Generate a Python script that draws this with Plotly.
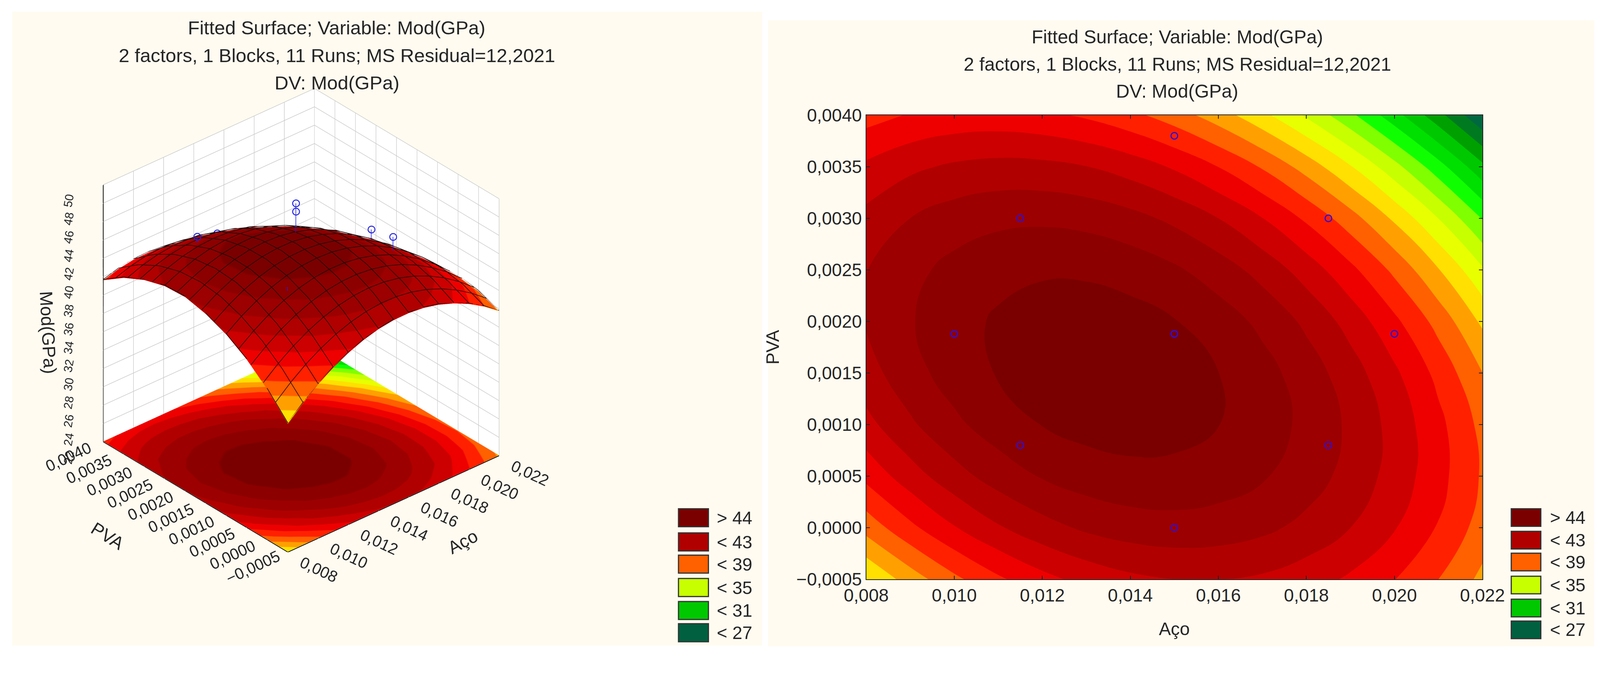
import numpy as np
import plotly.graph_objects as go

W0, WW, Y0, HH = 8, 4151, 4.5, 1740

title_lines = ["Fitted Surface; Variable: Mod(GPa)",
               "2 factors, 1 Blocks, 11 Runs; MS Residual=12,2021",
               "DV: Mod(GPa)"]

aco = [0.008, 0.009, 0.010, 0.011, 0.012, 0.013, 0.014, 0.015, 0.016, 0.017, 0.018, 0.019, 0.020, 0.021, 0.022]
pva = [-0.0005, 0.0, 0.0005, 0.0010, 0.0015, 0.0020, 0.0025, 0.0030, 0.0035, 0.0040]

mod_m0005 = [35.98, 37.47, 38.76, 39.83, 40.68, 41.33, 41.78, 42.01, 42.03, 41.85, 41.45, 40.84, 40.03, 39.00, 37.75]
mod_00000 = [38.38, 39.76, 40.93, 41.89, 42.63, 43.17, 43.50, 43.62, 43.53, 43.23, 42.72, 42.00, 41.07, 39.93, 38.57]
mod_00005 = [40.29, 41.55, 42.61, 43.45, 44.08, 44.51, 44.72, 44.73, 44.52, 44.11, 43.49, 42.65, 41.61, 40.35, 38.88]
mod_00010 = [41.69, 42.84, 43.78, 44.51, 45.03, 45.34, 45.44, 45.34, 45.02, 44.49, 43.76, 42.81, 41.65, 40.28, 38.70]
mod_00015 = [42.60, 43.63, 44.46, 45.08, 45.48, 45.68, 45.67, 45.44, 45.01, 44.37, 43.52, 42.46, 41.19, 39.71, 38.01]
mod_00020 = [43.10, 43.92, 44.63, 45.14, 45.43, 45.51, 45.39, 45.05, 44.51, 43.76, 42.79, 41.62, 40.23, 38.64, 36.83]
mod_00025 = [42.97, 43.71, 44.31, 44.70, 44.88, 44.85, 44.61, 44.16, 43.50, 42.64, 41.56, 40.27, 38.77, 37.06, 35.14]
mod_00030 = [42.30, 43.00, 43.49, 43.76, 43.82, 43.68, 43.33, 42.77, 42.00, 41.02, 39.83, 38.43, 36.82, 34.99, 32.95]
mod_00035 = [41.20, 41.79, 42.16, 42.33, 42.27, 42.02, 41.55, 40.88, 39.99, 38.90, 37.59, 36.08, 34.35, 32.42, 30.26]
mod_00040 = [39.60, 40.08, 40.34, 40.39, 40.22, 39.85, 39.28, 38.49, 37.49, 36.28, 34.87, 33.24, 31.40, 29.35, 27.08]
mod_rows = [mod_m0005, mod_00000, mod_00005, mod_00010, mod_00015, mod_00020, mod_00025, mod_00030, mod_00035, mod_00040]

run_aco = [0.0150, 0.0115, 0.0185, 0.0100, 0.0150, 0.0150, 0.0200, 0.0115, 0.0185, 0.0150]
run_pva = [0.0038, 0.0030, 0.0030, 0.00188, 0.00188, 0.00188, 0.00188, 0.0008, 0.0008, 0.0000]
run_mod = [40.0, 44.4, 38.5, 40.0, 47.5, 48.4, 41.8, 41.0, 45.0, 41.0]
run_surface = [39.2, 43.7, 39.1, 44.7, 45.2, 45.2, 40.4, 44.8, 43.5, 43.6]

band_colors = ["#006040", "#006840", "#007a20", "#00a000", "#00c800", "#00e000", "#10ff00", "#80ff00",
               "#c8ff00", "#e8ff00", "#ffe000", "#ffa000", "#ff6000", "#ff2000", "#ee0000", "#cc0000",
               "#b00000", "#9c0000", "#8c0000", "#7a0000"]
legend_labels = ["> 44", "< 43", "< 39", "< 35", "< 31", "< 27"]
legend_band = [19, 16, 12, 8, 4, 0]

z_tick_vals = [22, 24, 26, 28, 30, 32, 34, 36, 38, 40, 42, 44, 46, 48, 50]
x_tick_vals = [0.008, 0.010, 0.012, 0.014, 0.016, 0.018, 0.020, 0.022]
y_tick_vals = [-0.0005, 0.0, 0.0005, 0.0010, 0.0015, 0.0020, 0.0025, 0.0030, 0.0035, 0.0040]

PANEL = "#FFFBF0"
INK = "#262626"
FONT = "Liberation Sans"
ZMIN, ZMAX = 26, 46
n = len(band_colors)
scale = []
for i, c in enumerate(band_colors):
    scale += [[i / n, c], [(i + 1) / n, c]]

def fx(x):
    return (x - W0) / WW
def fy(y):
    return 1 - (y - Y0) / HH

Z = np.array(mod_rows)
fig = go.Figure()

# 3D panel
flat = dict(ambient=1, diffuse=0, specular=0, roughness=1, fresnel=0)
fig.add_trace(go.Surface(x=aco, y=pva, z=np.full(Z.shape, 22.05), surfacecolor=Z, cmin=ZMIN, cmax=ZMAX,
                         colorscale=scale, showscale=False, hoverinfo="skip", lighting=flat, scene="scene"))
fig.add_trace(go.Surface(x=aco, y=pva, z=Z, surfacecolor=Z, cmin=ZMIN, cmax=ZMAX,
                         colorscale=scale, showscale=False, hoverinfo="skip", lighting=flat, scene="scene"))

# wire mesh drawn on the fitted surface, one line per Aço value and one per PVA step
mx, my, mz = [], [], []
LIFT = 0.1
for j, a in enumerate(aco):
    mx += [a] * len(pva) + [None]
    my += list(pva) + [None]
    mz += list(Z[:, j] + LIFT) + [None]
for p in np.linspace(pva[0], pva[-1], 16):
    row = [np.interp(p, pva, Z[:, j]) for j in range(len(aco))]
    mx += list(aco) + [None]
    my += [p] * len(aco) + [None]
    mz += [v + LIFT for v in row] + [None]
fig.add_trace(go.Scatter3d(x=mx, y=my, z=mz, mode="lines", line=dict(color="#1a0a0a", width=3),
                           hoverinfo="skip", showlegend=False, scene="scene"))

sx, sy, sz = [], [], []
for a, p, m, s in zip(run_aco, run_pva, run_mod, run_surface):
    sx += [a, a, None]; sy += [p, p, None]; sz += [m, s, None]
fig.add_trace(go.Scatter3d(x=sx, y=sy, z=sz, mode="lines", line=dict(color="#2020e0", width=3),
                           hoverinfo="skip", showlegend=False, scene="scene"))
fig.add_trace(go.Scatter3d(x=run_aco, y=run_pva, z=run_mod, mode="markers",
                           marker=dict(symbol="circle-open", size=11, color="#2020e0", line=dict(color="#2020e0", width=3)),
                           hoverinfo="skip", showlegend=False, scene="scene"))

# Contour panel
fig.add_trace(go.Contour(x=aco, y=pva, z=Z, zmin=ZMIN, zmax=ZMAX, colorscale=scale, showscale=False,
                         contours=dict(start=27, end=45, size=1, coloring="fill"),
                         line=dict(width=0, smoothing=1.3), hoverinfo="skip", xaxis="x", yaxis="y"))
fig.add_trace(go.Scatter(x=run_aco, y=run_pva, mode="markers", hoverinfo="skip", showlegend=False,
                         marker=dict(symbol="circle-open", size=17, color="#3010d0", line=dict(color="#3010d0", width=3)),
                         xaxis="x", yaxis="y"))

def scene_axis(vals, rng, fmt, angle, size):
    return dict(title=dict(text=""),
                range=rng, tickmode="array", tickvals=vals, tickformat=fmt, tickangle=angle,
                tickfont=dict(family=FONT, size=size, color=INK),
                showbackground=True, backgroundcolor="white", gridcolor="#c8c8c8", gridwidth=3,
                showline=True, linecolor="#000000", linewidth=4, showspikes=False, zeroline=False,
                ticks="outside", ticklen=100, tickcolor="rgba(0,0,0,0)", tickwidth=3)

fig.update_layout(
    autosize=True, margin=dict(l=0, r=0, t=0, b=0, pad=0),
    paper_bgcolor="white", plot_bgcolor=PANEL, separators=",.", showlegend=False,
    font=dict(family=FONT, color=INK),
    scene=dict(
        domain=dict(x=[fx(24), fx(1544)], y=[fy(1611), fy(53)]),
        aspectmode="manual", aspectratio=dict(x=0.94, y=0.94, z=1.01),
        camera=dict(eye=dict(x=-1.32, y=-1.51, z=1.228), center=dict(x=0, y=0, z=0), up=dict(x=0, y=0, z=1),
                    projection=dict(type="orthographic")),
        bgcolor="rgba(0,0,0,0)",
        xaxis=scene_axis(x_tick_vals, [0.008, 0.022], ".3f", 25, 22),
        yaxis=scene_axis(y_tick_vals, [-0.0005, 0.004], ".4f", -25, 22),
        zaxis=scene_axis(z_tick_vals, [22, 50], "d", -80, 19),
    ),
    xaxis=dict(domain=[fx(2256), fx(3861)], range=[0.008, 0.022], tickvals=x_tick_vals, tickformat=".3f",
               ticks="inside", ticklen=9, tickwidth=2, tickcolor="#222", mirror="allticks", showline=True,
               linecolor="#222", linewidth=2, showgrid=False, zeroline=False, automargin=False,
               tickfont=dict(family=FONT, size=46, color=INK),
               title=dict(text="Aço", font=dict(family=FONT, size=46, color=INK), standoff=45)),
    yaxis=dict(domain=[fy(1508), fy(297)], range=[-0.0005, 0.004], tickvals=y_tick_vals, tickformat=".4f",
               ticks="inside", ticklen=9, tickwidth=2, tickcolor="#222", mirror="allticks", showline=True,
               linecolor="#222", linewidth=2, showgrid=False, zeroline=False, automargin=False,
               tickfont=dict(family=FONT, size=46, color=INK),
               title=dict(text="PVA", font=dict(family=FONT, size=46, color=INK), standoff=30)),
)

shapes, annotations = [], []
def px_rect(x0, y0, x1, y1, fill, line=None, layer="below"):
    shapes.append(dict(type="rect", xref="paper", yref="paper", x0=fx(x0), x1=fx(x1), y0=fy(y1), y1=fy(y0),
                       fillcolor=fill, line=dict(color=line or fill, width=3 if line else 0), layer=layer))
def px_text(x, y, text, size, anchor="center", angle=0):
    annotations.append(dict(xref="paper", yref="paper", x=fx(x), y=fy(y), text=text, showarrow=False,
                            xanchor=anchor, yanchor="middle", textangle=angle,
                            font=dict(family=FONT, size=size, color=INK)))

px_rect(32, 27, 1985, 1681, PANEL)
px_rect(2000, 49, 4152, 1683, PANEL)

for line, y in zip(title_lines, [69, 141, 212]):
    px_text(877, y, line, 49)
for line, y in zip(title_lines, [93, 164, 234]):
    px_text(3066, y, line, 48)

px_text(125, 864, "Mod(GPa)", 46, angle=87)
px_text(280, 1395, "PVA", 46, angle=32)
px_text(1205, 1410, "Aço", 46, angle=-28)

for k, (lab, b) in enumerate(zip(legend_labels, legend_band)):
    y0 = [1324, 1387, 1445, 1506, 1566, 1624][k]
    px_rect(1767, y0, 1845, y0 + 47, band_colors[b], "#333333", "above")
    px_text(1865, y0 + 24, lab, 46, "left")
    y0 = [1324, 1383, 1440, 1500, 1560, 1617][k]
    px_rect(3936, y0, 4013, y0 + 46, band_colors[b], "#333333", "above")
    px_text(4035, y0 + 23, lab, 46, "left")

fig.update_layout(shapes=shapes, annotations=annotations)
fig.write_html("out.html")
